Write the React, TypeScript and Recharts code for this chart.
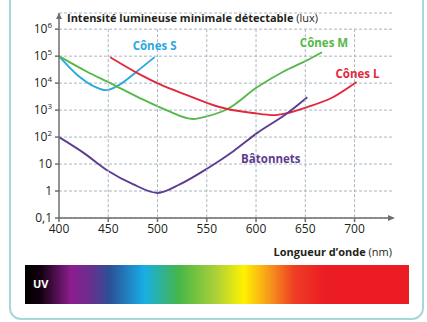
import {
  LineChart,
  Line,
  XAxis,
  YAxis,
  CartesianGrid,
  ReferenceDot,
} from "recharts";

const xTicks = [400, 450, 500, 550, 600, 650, 700];
const yTicks = [0.1, 1, 10, 100, 1000, 10000, 100000, 1000000];

const conesSNm = [400, 418, 435, 448, 462, 479, 497];
const conesSLux = [100000, 21000, 7800, 5500, 9000, 27000, 92000];

const conesMNm = [400, 428, 452, 482, 509, 536, 551, 571, 601, 628, 650, 667];
const conesMLux = [100000, 27000, 10000, 2800, 1000, 470, 600, 1100, 7000, 27000, 65000, 140000];

const conesLNm = [452, 482, 502, 530, 563, 571, 597, 618, 632, 652, 678, 702];
const conesLLux = [91000, 21000, 9100, 3600, 1300, 1100, 780, 650, 780, 1300, 3000, 11000];

const batonnetsNm = [400, 425, 450, 475, 500, 523, 551, 577, 601, 632, 652];
const batonnetsLux = [100, 26, 5.5, 1.8, 0.85, 1.8, 7, 30, 140, 780, 3000];

const X_MIN = 400;
const X_MAX = 738;
const Y_MIN = 0.1;
const Y_GRID_TOP = 1000000;
const Y_MAX = Math.pow(10, 6.6);

const W = 427;
const H = 322;
const M_TOP = 13;
const M_BOTTOM = 74;
const X_AXIS_H = 30;

const FONT = "'Open Sans', 'Noto Sans', sans-serif";
const TEXT = "#231f20";
const AXIS = "#6d6e71";
const GRID = "#a9b6c0";

const toPoints = (nm: number[], lux: number[]) => nm.map((x, i) => ({ x, y: lux[i] }));

const series = [
  { name: "Cônes S", color: "#2aa8e0", data: toPoints(conesSNm, conesSLux), lx: 497, ly: Math.pow(10, 5.22) },
  { name: "Cônes M", color: "#55b848", data: toPoints(conesMNm, conesMLux), lx: 669, ly: Math.pow(10, 5.33) },
  { name: "Cônes L", color: "#e2283b", data: toPoints(conesLNm, conesLLux), lx: 703, ly: Math.pow(10, 4.19) },
  { name: "Bâtonnets", color: "#5d3c90", data: toPoints(batonnetsNm, batonnetsLux), lx: 615, ly: Math.pow(10, 1.04) },
];

// bottom of the plot area (where 0,1 sits)
const plotBottom = H - M_BOTTOM - X_AXIS_H;

function YTick({ x, y, payload }: { x?: number; y?: number; payload?: { value: number } }) {
  const v = payload?.value ?? 0;
  const exp = Math.round(Math.log10(v));
  let body;
  if (v < 1) body = <tspan>0,1</tspan>;
  else if (exp <= 1) body = <tspan>{String(v)}</tspan>;
  else
    body = (
      <>
        <tspan>10</tspan>
        <tspan dy={-5} fontSize={8}>{exp}</tspan>
      </>
    );
  return (
    <text x={(x ?? 0) - 1} y={(y ?? 0) + 4} textAnchor="end" fontSize={12} fill={TEXT} fontFamily={FONT}>
      {body}
    </text>
  );
}

export default function App() {
  return (
    <div style={{ position: "absolute", left: 0, top: 0, width: W, height: H, background: "#fff", overflow: "hidden" }}>
      {/* cadre */}
      <div
        style={{
          position: "absolute",
          left: 9,
          top: -20,
          width: 411,
          height: 336,
          border: "2px solid #a6d8db",
          borderRadius: 12,
        }}
      />
      <LineChart width={W} height={H} margin={{ top: M_TOP, right: 35, left: 0, bottom: M_BOTTOM }} style={{ position: "absolute", left: 0, top: 0 }}>
        <CartesianGrid vertical={false} stroke={GRID} strokeDasharray="3 2" />
        <XAxis
          type="number"
          dataKey="x"
          domain={[X_MIN, X_MAX]}
          ticks={xTicks}
          allowDataOverflow
          stroke={AXIS}
          strokeWidth={1.5}
          tickSize={4}
          tick={{ fontSize: 12, fill: TEXT, fontFamily: FONT }}
          height={X_AXIS_H}
        />
        <YAxis
          type="number"
          dataKey="y"
          scale="log"
          domain={[Y_MIN, Y_MAX]}
          ticks={yTicks}
          allowDataOverflow
          stroke={AXIS}
          strokeWidth={1.5}
          tickSize={4}
          tick={<YTick />}
          width={59}
        />
        {/* quadrillage vertical, de 0,1 à 10^6 */}
        {xTicks.slice(1).map((t) => (
          <ReferenceDot
            key={"g" + t}
            x={t}
            y={Y_GRID_TOP}
            r={0}
            ifOverflow="visible"
            shape={(p: { cx: number; cy: number }) => (
              <line x1={p.cx} x2={p.cx} y1={p.cy} y2={plotBottom} stroke={GRID} strokeDasharray="3 2" />
            )}
          />
        ))}
        {series.map((s) => (
          <Line
            key={s.name}
            data={s.data}
            dataKey="y"
            type="monotone"
            stroke={s.color}
            strokeWidth={1.9}
            dot={false}
            isAnimationActive={false}
          />
        ))}
        {series.map((s) => (
          <ReferenceDot
            key={"l" + s.name}
            x={s.lx}
            y={s.ly}
            r={0}
            ifOverflow="visible"
            shape={(p: { cx: number; cy: number }) => (
              <text x={p.cx} y={p.cy} textAnchor="middle" fontSize={11.5} fontWeight={700} fill={s.color} fontFamily={FONT}>
                {s.name}
              </text>
            )}
          />
        ))}
        {/* flèche et titre de l'axe vertical */}
        <ReferenceDot
          x={X_MIN}
          y={Y_MAX}
          r={0}
          ifOverflow="visible"
          shape={(p: { cx: number; cy: number }) => (
            <g>
              <polygon points={`${p.cx},${p.cy} ${p.cx - 3},${p.cy + 6} ${p.cx + 3},${p.cy + 6}`} fill={AXIS} />
              <text x={p.cx + 8} y={p.cy + 9} fontSize={11} fill={TEXT} fontFamily={FONT}>
                <tspan fontWeight={700}>Intensité lumineuse minimale détectable</tspan>
                <tspan> (lux)</tspan>
              </text>
            </g>
          )}
        />
        {/* flèche et titre de l'axe horizontal */}
        <ReferenceDot
          x={X_MAX}
          y={Y_MIN}
          r={0}
          ifOverflow="visible"
          shape={(p: { cx: number; cy: number }) => (
            <g>
              <polygon points={`${p.cx + 3},${p.cy} ${p.cx - 4},${p.cy - 3} ${p.cx - 4},${p.cy + 3}`} fill={AXIS} />
              <text x={p.cx} y={p.cy + 38} textAnchor="end" fontSize={11} fill={TEXT} fontFamily={FONT}>
                <tspan fontWeight={700}>Longueur d’onde</tspan>
                <tspan> (nm)</tspan>
              </text>
            </g>
          )}
        />
      </LineChart>
      {/* spectre */}
      <div
        style={{
          position: "absolute",
          left: 25,
          top: 265,
          width: 384,
          height: 39,
          background:
            "linear-gradient(to right, #000 0%, #120010 4%, #8c1d8e 12%, #6a2f8e 17%, #2c4f96 22%, #17aee6 31%, #45b649 40%, #b0d136 50%, #fff200 57%, #f7a11a 63%, #ef3e24 70%, #ec1c24 78%, #ec1c24 100%)",
        }}
      >
        <span
          style={{
            position: "absolute",
            left: 8,
            top: 11,
            color: "#fff",
            fontFamily: FONT,
            fontWeight: 700,
            fontSize: 11,
          }}
        >
          UV
        </span>
      </div>
    </div>
  );
}
